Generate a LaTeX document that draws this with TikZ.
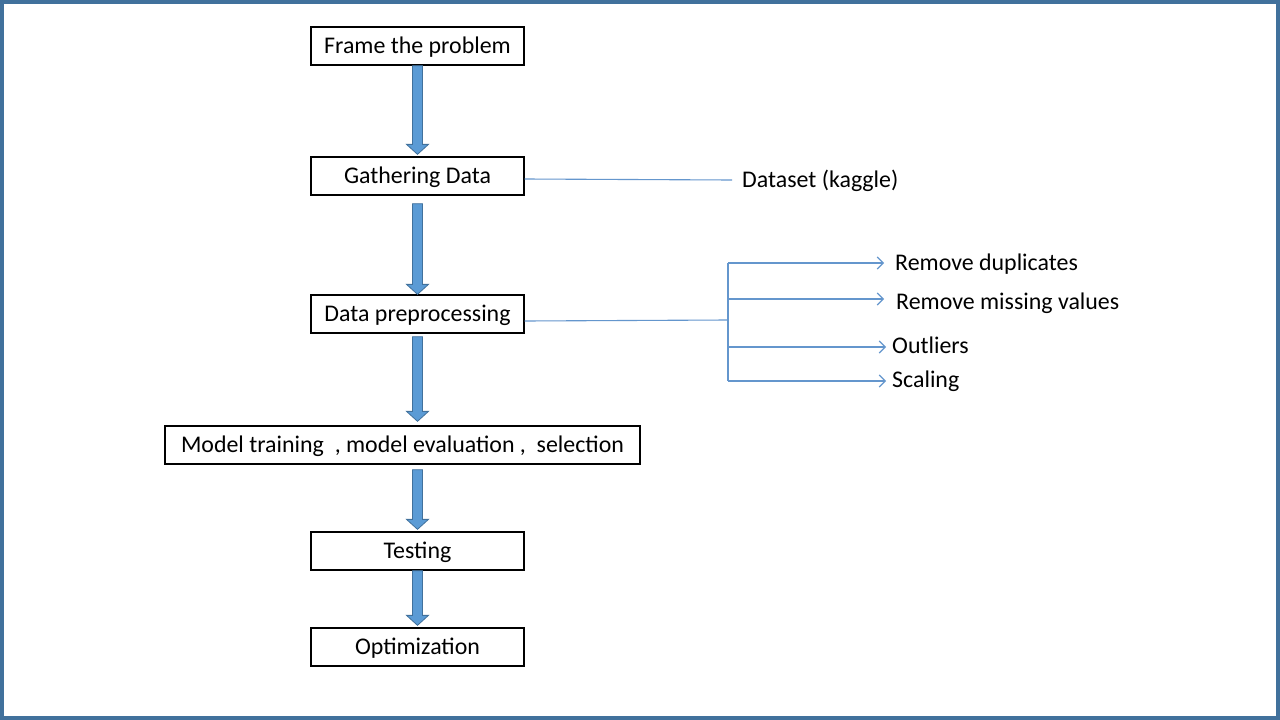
\documentclass[tikz,border=0pt]{standalone}
\usepackage{fontspec}
\setmainfont{Carlito}
\usetikzlibrary{arrows.meta,calc}
\definecolor{frameblue}{RGB}{65,113,156}
\definecolor{arrfill}{RGB}{91,155,213}
\definecolor{arrline}{RGB}{65,113,156}
\definecolor{linkblue}{RGB}{100,150,205}
\newcommand\blockarrow[2]{%
  \path[blockarr] let \p1=(#1), \p2=(#2) in
    (\x1-5pt,\y1) -- (\x1+5pt,\y1) -- (\x1+5pt,\y2+10pt) -- (\x1+11pt,\y2+10pt)
    -- (\x1,\y2) -- (\x1-11pt,\y2+10pt) -- (\x1-5pt,\y2+10pt) -- cycle;}
\begin{document}
\begin{tikzpicture}[x=1pt,y=-1pt,
  font=\fontsize{23.9}{28}\selectfont,
  stepbox/.style={draw=black, line width=1.3pt, minimum width=213pt, minimum height=38pt,
    inner sep=0pt, text height=15pt, text depth=0pt},
  lbl/.style={anchor=west, inner sep=0pt, text height=15pt, text depth=0pt},
  link/.style={draw=linkblue, line width=1.1pt},
  branch/.style={link, -{Straight Barb[length=6pt,width=12pt]}},
  blockarr/.style={fill=arrfill, draw=arrline, line width=0.8pt}]
\useasboundingbox (0,0) rectangle (1280,720);
\fill[white] (0,0) rectangle (1280,720);
\draw[frameblue, line width=4pt] (2,2) rectangle (1278,718);

\node[stepbox] (frame) at (417.5,46) {Frame the problem};
\node[stepbox] (gather) at (417.5,176) {Gathering Data};
\node[stepbox] (prep) at (417.5,314) {Data preprocessing};
\node[stepbox, minimum width=475pt] (model) at (402.5,445) {Model training\ \ , model evaluation ,\ \ selection};
\node[stepbox] (test) at (417.5,551) {Testing};
\node[stepbox] (opt) at (417.5,647) {Optimization};

\blockarrow{frame.south}{[yshift=2pt]gather.north}
\blockarrow{[yshift=-8pt]gather.south}{prep.north}
\blockarrow{[yshift=-3pt]prep.south}{[yshift=4pt]model.north}
\blockarrow{[yshift=-5pt]model.south -| test.north}{[yshift=2pt]test.north}
\blockarrow{test.south}{[yshift=2pt]opt.north}

\node[lbl] (ds) at (742,180) {Dataset (kaggle)};
\node[lbl] (rd) at (895,263) {Remove duplicates};
\node[lbl] (rm) at (896,302) {Remove missing values};
\node[lbl] (ol) at (892,346) {Outliers};
\node[lbl] (sc) at (892,380) {Scaling};

\draw[link] ([yshift=-3pt]gather.east) -- ([xshift=-10pt]ds.west);

\coordinate (hub) at (728,320);
\coordinate (h1) at (728,263);
\coordinate (h2) at (728,299);
\coordinate (h3) at (728,347);
\coordinate (h4) at (728,381);
\draw[link] ([yshift=-7pt]prep.east) -- (hub);
\draw[link] (h1) -- (h4);
\draw[branch] (h1) -- ($(h1 -| rd.west)+(-11,0)$);
\draw[branch] (h2) -- ($(h2 -| rm.west)+(-12,0)$);
\draw[branch] (h3) -- ($(h3 -| ol.west)+(-6,0)$);
\draw[branch] (h4) -- ($(h4 -| sc.west)+(-6,0)$);
\end{tikzpicture}
\end{document}
